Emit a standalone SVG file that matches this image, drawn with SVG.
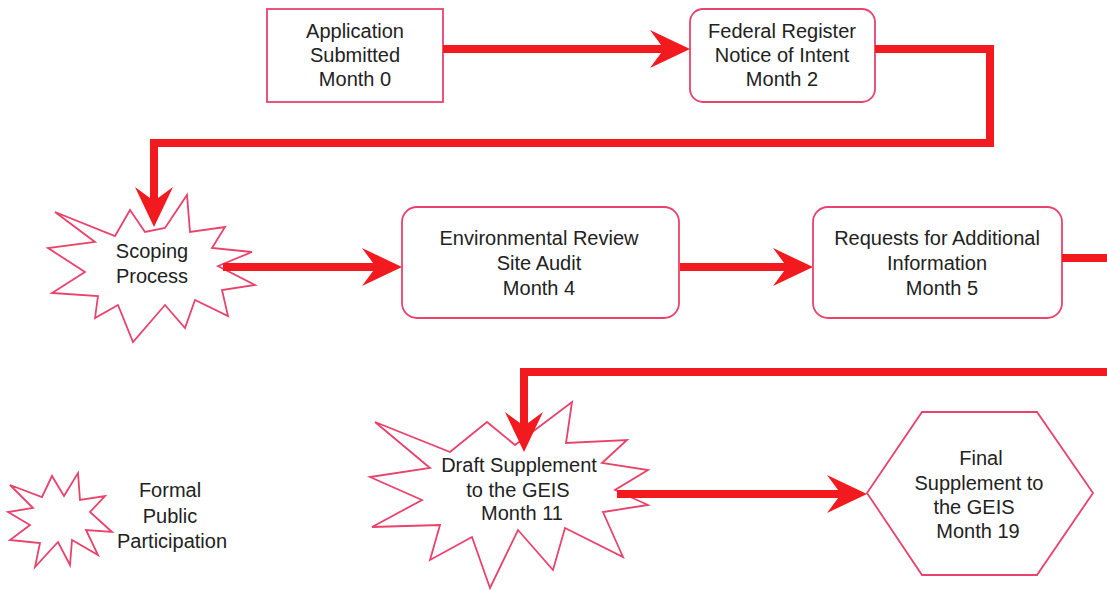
<svg xmlns="http://www.w3.org/2000/svg" width="1107" height="590" viewBox="0 0 1107 590">
<style>
.node{fill:#fff;stroke:#e8436b;stroke-width:1.8}
.t{font-family:"Liberation Sans",Arial,sans-serif;font-size:20px;fill:#222;text-anchor:middle}
.c{fill:none;stroke:#f2191f;stroke-width:8;stroke-linejoin:miter}
</style>
<defs>
<marker id="ah" markerUnits="userSpaceOnUse" orient="auto" refX="0" refY="0" markerWidth="60" markerHeight="60" viewBox="-30 -30 60 60" overflow="visible">
<path d="M-16,-19 L24,0 L-16,19 L-2,0 Z" fill="#f2191f"/>
</marker>
</defs>
<rect width="1107" height="590" fill="#fff"/>

<g id="app">
<rect class="node" x="267" y="9" width="176" height="93"/>
<text class="t" x="355" y="38">Application</text>
<text class="t" x="355" y="62">Submitted</text>
<text class="t" x="355" y="86">Month 0</text>
</g>

<g id="fed">
<rect class="node" x="690" y="9" width="185" height="93" rx="13"/>
<text class="t" x="782" y="38">Federal Register</text>
<text class="t" x="782" y="62">Notice of Intent</text>
<text class="t" x="782" y="86">Month 2</text>
</g>

<g id="scoping">
<polygon class="node" points="55,212 115,236 130,210 145,232 165,228 187,195 190,232 225,227 212,248 252,252 218,266 255,285 222,290 228,316 195,300 185,328 165,305 133,342 118,305 95,318 98,296 52,293 85,272 48,248 95,242"/>
<text class="t" x="152" y="258">Scoping</text>
<text class="t" x="152" y="283">Process</text>
</g>

<g id="env">
<rect class="node" x="402" y="207" width="277" height="111" rx="15"/>
<text class="t" x="539" y="245">Environmental Review</text>
<text class="t" x="539" y="270">Site Audit</text>
<text class="t" x="539" y="295">Month 4</text>
</g>

<g id="req">
<rect class="node" x="813" y="207" width="249" height="111" rx="15"/>
<text class="t" x="937" y="245">Requests for Additional</text>
<text class="t" x="937" y="270">Information</text>
<text class="t" x="942" y="295">Month 5</text>
</g>

<g id="draft">
<polygon class="node" points="375,422 450,452 487,422 515,445 572,402 566,443 627,440 602,463 648,470 615,490 648,505 603,512 623,557 565,528 553,570 518,530 490,588 472,537 430,560 440,525 372,527 422,500 370,477 430,468"/>
<text class="t" x="519" y="472">Draft Supplement</text>
<text class="t" x="518" y="497">to the GEIS</text>
<text class="t" x="522" y="520">Month 11</text>
</g>

<g id="final">
<polygon class="node" points="867,493 922,412 1037,412 1093,493 1037,575 922,575"/>
<text class="t" x="981" y="465">Final</text>
<text class="t" x="979" y="490">Supplement to</text>
<text class="t" x="974" y="514">the GEIS</text>
<text class="t" x="978" y="538">Month 19</text>
</g>

<g id="legend">
<polygon class="node" points="10,485 42,497 52,476 64,496 78,473 80,500 105,496 90,512 112,532 86,530 98,555 72,540 70,565 58,542 35,567 40,543 10,540 30,525 8,512 33,508"/>
<text class="t" x="170" y="497">Formal</text>
<text class="t" x="170" y="523">Public</text>
<text class="t" x="172" y="548">Participation</text>
</g>

<g id="connectors">
<path class="c" d="M443,49 H666" marker-end="url(#ah)"/>
<path class="c" d="M875,49 H990 V143 H154 V203" marker-end="url(#ah)"/>
<path class="c" d="M223,267 H378" marker-end="url(#ah)"/>
<path class="c" d="M680,267 H789" marker-end="url(#ah)"/>
<path class="c" d="M1062,258 H1115 V372 H524 V428" marker-end="url(#ah)"/>
<path class="c" d="M617,494 H843" marker-end="url(#ah)"/>
</g>
</svg>
